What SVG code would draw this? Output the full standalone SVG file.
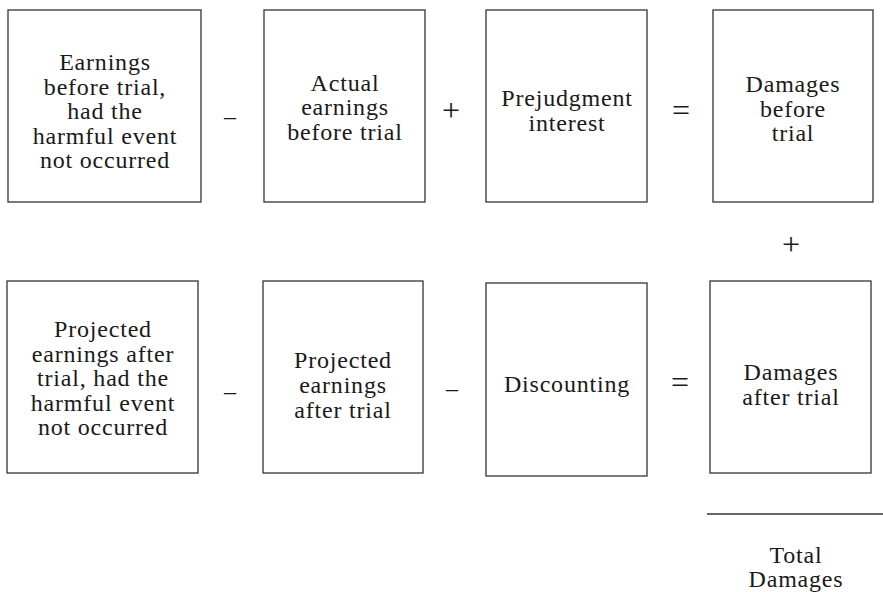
<svg xmlns="http://www.w3.org/2000/svg" width="883" height="592" viewBox="0 0 883 592">
<style>
.box{fill:#fff;stroke:#333;stroke-width:1.3}
text{font-family:"Liberation Serif","Times New Roman",serif;font-size:24px;fill:#1a1a1a;text-anchor:middle;letter-spacing:0.8px}
.op{font-size:32px;letter-spacing:0}
.mn{font-size:24px;letter-spacing:0}
</style>
<rect width="883" height="592" fill="#fff"/>
<g id="n1"><rect class="box" x="8" y="10" width="193" height="192"/>
<text x="105" y="70">Earnings</text><text x="105" y="94.5">before trial,</text><text x="105" y="119">had the</text><text x="105" y="143.5">harmful event</text><text x="105" y="168">not occurred</text></g>
<g id="n2"><rect class="box" x="264" y="10" width="161" height="192"/>
<text x="345" y="90.5">Actual</text><text x="345" y="115">earnings</text><text x="345" y="139.5">before trial</text></g>
<g id="n3"><rect class="box" x="486" y="10" width="161" height="192"/>
<text x="567" y="106">Prejudgment</text><text x="567" y="131">interest</text></g>
<g id="n4"><rect class="box" x="713" y="10" width="160" height="192"/>
<text x="793" y="92">Damages</text><text x="793" y="116.5">before</text><text x="793" y="141">trial</text></g>
<g id="n5"><rect class="box" x="7" y="281" width="191" height="192"/>
<text x="103" y="337">Projected</text><text x="103" y="361.5">earnings after</text><text x="103" y="386">trial, had the</text><text x="103" y="410.5">harmful event</text><text x="103" y="435">not occurred</text></g>
<g id="n6"><rect class="box" x="263" y="281" width="160" height="192"/>
<text x="343" y="368">Projected</text><text x="343" y="393">earnings</text><text x="343" y="418">after trial</text></g>
<g id="n7"><rect class="box" x="486" y="283" width="161" height="193"/>
<text x="567" y="392">Discounting</text></g>
<g id="n8"><rect class="box" x="710" y="281" width="161" height="192"/>
<text x="791" y="380">Damages</text><text x="791" y="405">after trial</text></g>
<g id="total"><text x="796" y="563">Total</text><text x="796" y="587">Damages</text></g>
<g id="connectors">
<line x1="707" y1="514" x2="883" y2="514" stroke="#333" stroke-width="1.3"/>
<text class="mn" x="230" y="124">–</text>
<text class="op" x="451" y="121">+</text>
<text class="op" x="681" y="121">=</text>
<text class="op" x="791" y="255">+</text>
<text class="mn" x="230" y="399">–</text>
<text class="mn" x="452" y="396">–</text>
<text class="op" x="680" y="393">=</text>
</g>
</svg>
